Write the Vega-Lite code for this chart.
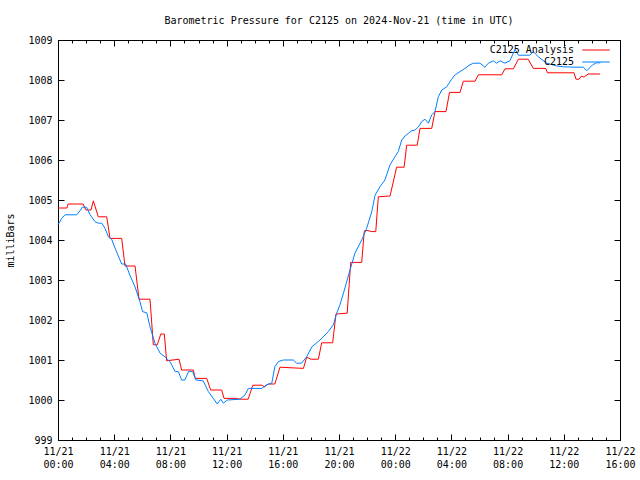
{
  "$schema": "https://vega.github.io/schema/vega-lite/v6.json",
  "width": 562,
  "height": 400,
  "autosize": {"type": "none"},
  "padding": {"left": 58, "top": 40, "right": 20, "bottom": 40},
  "background": "white",
  "title": {"text": "Barometric Pressure for C2125 on 2024-Nov-21 (time in UTC)", "offset": 1, "frame": "group", "anchor": "middle", "baseline": "alphabetic"},
  "config": {
    "font": "DejaVu Sans Mono",
    "view": {"stroke": "black", "strokeWidth": 1},
    "title": {"font": "DejaVu Sans Mono", "fontSize": 10, "fontWeight": "normal", "color": "black"},
    "axis": {"labelFont": "DejaVu Sans Mono", "labelFontSize": 10, "labelColor": "black", "tickColor": "black", "tickWidth": 1, "domain": false, "grid": false, "titleFont": "DejaVu Sans Mono", "titleFontSize": 10, "titleFontWeight": "normal", "titleColor": "black"}
  },
  "datasets": {
    "analysis": [
      {"t": "2024-11-21T00:00:00Z", "v": 1004.8},
      {"t": "2024-11-21T00:38:00Z", "v": 1004.8},
      {"t": "2024-11-21T00:43:00Z", "v": 1004.9},
      {"t": "2024-11-21T01:47:00Z", "v": 1004.9},
      {"t": "2024-11-21T01:59:00Z", "v": 1004.75},
      {"t": "2024-11-21T02:21:00Z", "v": 1004.75},
      {"t": "2024-11-21T02:31:00Z", "v": 1004.98},
      {"t": "2024-11-21T02:52:00Z", "v": 1004.58},
      {"t": "2024-11-21T03:28:00Z", "v": 1004.58},
      {"t": "2024-11-21T03:42:00Z", "v": 1004.04},
      {"t": "2024-11-21T04:32:00Z", "v": 1004.04},
      {"t": "2024-11-21T04:46:00Z", "v": 1003.35},
      {"t": "2024-11-21T05:29:00Z", "v": 1003.35},
      {"t": "2024-11-21T05:46:00Z", "v": 1002.52},
      {"t": "2024-11-21T06:33:00Z", "v": 1002.52},
      {"t": "2024-11-21T06:47:00Z", "v": 1001.38},
      {"t": "2024-11-21T07:04:00Z", "v": 1001.38},
      {"t": "2024-11-21T07:19:00Z", "v": 1001.65},
      {"t": "2024-11-21T07:34:00Z", "v": 1001.65},
      {"t": "2024-11-21T07:44:00Z", "v": 1000.98},
      {"t": "2024-11-21T08:37:00Z", "v": 1001.02},
      {"t": "2024-11-21T08:48:00Z", "v": 1000.75},
      {"t": "2024-11-21T09:38:00Z", "v": 1000.75},
      {"t": "2024-11-21T09:46:00Z", "v": 1000.54},
      {"t": "2024-11-21T10:35:00Z", "v": 1000.54},
      {"t": "2024-11-21T10:52:00Z", "v": 1000.25},
      {"t": "2024-11-21T11:39:00Z", "v": 1000.25},
      {"t": "2024-11-21T11:49:00Z", "v": 1000.04},
      {"t": "2024-11-21T12:43:00Z", "v": 1000.04},
      {"t": "2024-11-21T12:57:00Z", "v": 1000.02},
      {"t": "2024-11-21T13:32:00Z", "v": 1000.02},
      {"t": "2024-11-21T13:52:00Z", "v": 1000.37},
      {"t": "2024-11-21T14:30:00Z", "v": 1000.37},
      {"t": "2024-11-21T14:42:00Z", "v": 1000.33},
      {"t": "2024-11-21T14:58:00Z", "v": 1000.4},
      {"t": "2024-11-21T15:26:00Z", "v": 1000.4},
      {"t": "2024-11-21T15:48:00Z", "v": 1000.82},
      {"t": "2024-11-21T17:28:00Z", "v": 1000.79},
      {"t": "2024-11-21T17:42:00Z", "v": 1001.07},
      {"t": "2024-11-21T18:00:00Z", "v": 1001.02},
      {"t": "2024-11-21T18:32:00Z", "v": 1001.02},
      {"t": "2024-11-21T18:46:00Z", "v": 1001.43},
      {"t": "2024-11-21T19:33:00Z", "v": 1001.43},
      {"t": "2024-11-21T19:47:00Z", "v": 1002.15},
      {"t": "2024-11-21T20:35:00Z", "v": 1002.17},
      {"t": "2024-11-21T20:50:00Z", "v": 1003.44},
      {"t": "2024-11-21T21:37:00Z", "v": 1003.44},
      {"t": "2024-11-21T21:48:00Z", "v": 1004.23},
      {"t": "2024-11-21T22:00:00Z", "v": 1004.24},
      {"t": "2024-11-21T22:20:00Z", "v": 1004.21},
      {"t": "2024-11-21T22:37:00Z", "v": 1004.21},
      {"t": "2024-11-21T22:48:00Z", "v": 1005.08},
      {"t": "2024-11-21T23:38:00Z", "v": 1005.1},
      {"t": "2024-11-22T00:06:00Z", "v": 1005.82},
      {"t": "2024-11-22T00:38:00Z", "v": 1005.82},
      {"t": "2024-11-22T00:49:00Z", "v": 1006.37},
      {"t": "2024-11-22T01:34:00Z", "v": 1006.37},
      {"t": "2024-11-22T01:46:00Z", "v": 1006.79},
      {"t": "2024-11-22T02:36:00Z", "v": 1006.79},
      {"t": "2024-11-22T02:50:00Z", "v": 1007.21},
      {"t": "2024-11-22T03:37:00Z", "v": 1007.21},
      {"t": "2024-11-22T03:52:00Z", "v": 1007.69},
      {"t": "2024-11-22T04:37:00Z", "v": 1007.69},
      {"t": "2024-11-22T04:51:00Z", "v": 1007.97},
      {"t": "2024-11-22T05:41:00Z", "v": 1007.97},
      {"t": "2024-11-22T05:55:00Z", "v": 1008.13},
      {"t": "2024-11-22T07:35:00Z", "v": 1008.13},
      {"t": "2024-11-22T07:49:00Z", "v": 1008.28},
      {"t": "2024-11-22T08:25:00Z", "v": 1008.28},
      {"t": "2024-11-22T08:46:00Z", "v": 1008.52},
      {"t": "2024-11-22T09:28:00Z", "v": 1008.52},
      {"t": "2024-11-22T09:50:00Z", "v": 1008.29},
      {"t": "2024-11-22T10:43:00Z", "v": 1008.29},
      {"t": "2024-11-22T10:50:00Z", "v": 1008.18},
      {"t": "2024-11-22T12:44:00Z", "v": 1008.18},
      {"t": "2024-11-22T12:52:00Z", "v": 1008.02},
      {"t": "2024-11-22T13:05:00Z", "v": 1008.02},
      {"t": "2024-11-22T13:16:00Z", "v": 1008.1},
      {"t": "2024-11-22T13:26:00Z", "v": 1008.07},
      {"t": "2024-11-22T13:44:00Z", "v": 1008.15},
      {"t": "2024-11-22T14:35:00Z", "v": 1008.15}
    ],
    "obs": [
      {"t": "2024-11-21T00:00:00Z", "v": 1004.38},
      {"t": "2024-11-21T00:16:00Z", "v": 1004.54},
      {"t": "2024-11-21T00:30:00Z", "v": 1004.63},
      {"t": "2024-11-21T01:20:00Z", "v": 1004.63},
      {"t": "2024-11-21T01:34:00Z", "v": 1004.73},
      {"t": "2024-11-21T01:44:00Z", "v": 1004.82},
      {"t": "2024-11-21T02:02:00Z", "v": 1004.82},
      {"t": "2024-11-21T02:17:00Z", "v": 1004.63},
      {"t": "2024-11-21T02:38:00Z", "v": 1004.46},
      {"t": "2024-11-21T02:52:00Z", "v": 1004.42},
      {"t": "2024-11-21T03:07:00Z", "v": 1004.42},
      {"t": "2024-11-21T03:21:00Z", "v": 1004.29},
      {"t": "2024-11-21T03:35:00Z", "v": 1004.08},
      {"t": "2024-11-21T03:49:00Z", "v": 1004.02},
      {"t": "2024-11-21T04:04:00Z", "v": 1003.79},
      {"t": "2024-11-21T04:25:00Z", "v": 1003.5},
      {"t": "2024-11-21T04:32:00Z", "v": 1003.4},
      {"t": "2024-11-21T04:49:00Z", "v": 1003.4},
      {"t": "2024-11-21T05:07:00Z", "v": 1003.12},
      {"t": "2024-11-21T05:29:00Z", "v": 1002.83},
      {"t": "2024-11-21T05:43:00Z", "v": 1002.58},
      {"t": "2024-11-21T05:50:00Z", "v": 1002.46},
      {"t": "2024-11-21T06:01:00Z", "v": 1002.21},
      {"t": "2024-11-21T06:19:00Z", "v": 1002.18},
      {"t": "2024-11-21T06:33:00Z", "v": 1001.83},
      {"t": "2024-11-21T06:54:00Z", "v": 1001.42},
      {"t": "2024-11-21T07:16:00Z", "v": 1001.17},
      {"t": "2024-11-21T07:37:00Z", "v": 1001.08},
      {"t": "2024-11-21T07:58:00Z", "v": 1000.96},
      {"t": "2024-11-21T08:20:00Z", "v": 1000.71},
      {"t": "2024-11-21T08:34:00Z", "v": 1000.71},
      {"t": "2024-11-21T08:48:00Z", "v": 1000.5},
      {"t": "2024-11-21T09:02:00Z", "v": 1000.5},
      {"t": "2024-11-21T09:17:00Z", "v": 1000.71},
      {"t": "2024-11-21T09:35:00Z", "v": 1000.71},
      {"t": "2024-11-21T09:49:00Z", "v": 1000.5},
      {"t": "2024-11-21T10:20:00Z", "v": 1000.48},
      {"t": "2024-11-21T10:42:00Z", "v": 1000.21},
      {"t": "2024-11-21T11:03:00Z", "v": 1000.04},
      {"t": "2024-11-21T11:20:00Z", "v": 999.9},
      {"t": "2024-11-21T11:35:00Z", "v": 1000.02},
      {"t": "2024-11-21T11:46:00Z", "v": 999.92},
      {"t": "2024-11-21T12:03:00Z", "v": 1000.0},
      {"t": "2024-11-21T12:57:00Z", "v": 1000.02},
      {"t": "2024-11-21T13:19:00Z", "v": 1000.13},
      {"t": "2024-11-21T13:33:00Z", "v": 1000.29},
      {"t": "2024-11-21T14:30:00Z", "v": 1000.29},
      {"t": "2024-11-21T14:51:00Z", "v": 1000.38},
      {"t": "2024-11-21T15:13:00Z", "v": 1000.42},
      {"t": "2024-11-21T15:26:00Z", "v": 1000.83},
      {"t": "2024-11-21T15:41:00Z", "v": 1000.96},
      {"t": "2024-11-21T16:02:00Z", "v": 1001.0},
      {"t": "2024-11-21T16:45:00Z", "v": 1001.0},
      {"t": "2024-11-21T16:59:00Z", "v": 1000.92},
      {"t": "2024-11-21T17:20:00Z", "v": 1000.92},
      {"t": "2024-11-21T17:42:00Z", "v": 1001.08},
      {"t": "2024-11-21T18:04:00Z", "v": 1001.33},
      {"t": "2024-11-21T18:39:00Z", "v": 1001.5},
      {"t": "2024-11-21T19:14:00Z", "v": 1001.71},
      {"t": "2024-11-21T19:36:00Z", "v": 1001.88},
      {"t": "2024-11-21T19:50:00Z", "v": 1002.17},
      {"t": "2024-11-21T20:04:00Z", "v": 1002.38},
      {"t": "2024-11-21T20:19:00Z", "v": 1002.67},
      {"t": "2024-11-21T20:47:00Z", "v": 1003.25},
      {"t": "2024-11-21T21:08:00Z", "v": 1003.67},
      {"t": "2024-11-21T21:37:00Z", "v": 1004.0},
      {"t": "2024-11-21T21:58:00Z", "v": 1004.29},
      {"t": "2024-11-21T22:20:00Z", "v": 1004.71},
      {"t": "2024-11-21T22:34:00Z", "v": 1005.12},
      {"t": "2024-11-21T22:55:00Z", "v": 1005.33},
      {"t": "2024-11-21T23:16:00Z", "v": 1005.5},
      {"t": "2024-11-21T23:38:00Z", "v": 1005.88},
      {"t": "2024-11-21T23:59:00Z", "v": 1006.08},
      {"t": "2024-11-22T00:13:00Z", "v": 1006.21},
      {"t": "2024-11-22T00:28:00Z", "v": 1006.5},
      {"t": "2024-11-22T00:42:00Z", "v": 1006.6},
      {"t": "2024-11-22T01:10:00Z", "v": 1006.73},
      {"t": "2024-11-22T01:25:00Z", "v": 1006.75},
      {"t": "2024-11-22T01:39:00Z", "v": 1006.83},
      {"t": "2024-11-22T01:53:00Z", "v": 1006.96},
      {"t": "2024-11-22T02:07:00Z", "v": 1007.02},
      {"t": "2024-11-22T02:22:00Z", "v": 1006.92},
      {"t": "2024-11-22T02:36:00Z", "v": 1007.13},
      {"t": "2024-11-22T02:50:00Z", "v": 1007.21},
      {"t": "2024-11-22T03:04:00Z", "v": 1007.58},
      {"t": "2024-11-22T03:19:00Z", "v": 1007.75},
      {"t": "2024-11-22T03:40:00Z", "v": 1007.83},
      {"t": "2024-11-22T04:01:00Z", "v": 1008.02},
      {"t": "2024-11-22T04:16:00Z", "v": 1008.13},
      {"t": "2024-11-22T04:37:00Z", "v": 1008.21},
      {"t": "2024-11-22T04:58:00Z", "v": 1008.29},
      {"t": "2024-11-22T05:19:00Z", "v": 1008.38},
      {"t": "2024-11-22T05:34:00Z", "v": 1008.42},
      {"t": "2024-11-22T06:02:00Z", "v": 1008.42},
      {"t": "2024-11-22T06:23:00Z", "v": 1008.32},
      {"t": "2024-11-22T06:38:00Z", "v": 1008.42},
      {"t": "2024-11-22T06:59:00Z", "v": 1008.48},
      {"t": "2024-11-22T07:13:00Z", "v": 1008.42},
      {"t": "2024-11-22T07:28:00Z", "v": 1008.48},
      {"t": "2024-11-22T07:49:00Z", "v": 1008.42},
      {"t": "2024-11-22T08:10:00Z", "v": 1008.48},
      {"t": "2024-11-22T08:32:00Z", "v": 1008.77},
      {"t": "2024-11-22T08:46:00Z", "v": 1008.62},
      {"t": "2024-11-22T09:35:00Z", "v": 1008.62},
      {"t": "2024-11-22T09:50:00Z", "v": 1008.71},
      {"t": "2024-11-22T10:11:00Z", "v": 1008.58},
      {"t": "2024-11-22T10:47:00Z", "v": 1008.42},
      {"t": "2024-11-22T11:30:00Z", "v": 1008.35},
      {"t": "2024-11-22T11:58:00Z", "v": 1008.33},
      {"t": "2024-11-22T12:48:00Z", "v": 1008.32},
      {"t": "2024-11-22T13:23:00Z", "v": 1008.32},
      {"t": "2024-11-22T13:38:00Z", "v": 1008.23},
      {"t": "2024-11-22T14:03:00Z", "v": 1008.38},
      {"t": "2024-11-22T14:20:00Z", "v": 1008.43},
      {"t": "2024-11-22T14:36:00Z", "v": 1008.43}
    ]
  },
  "layer": [
    {
      "data": {"name": "analysis"},
      "mark": {"type": "line", "strokeWidth": 1},
      "encoding": {
        "x": {"field": "t", "type": "temporal", "scale": {"type": "utc", "domain": [1732147200000, 1732291200000], "nice": false},
              "axis": {"orient": "bottom", "title": null, "values": [1732147200000, 1732161600000, 1732176000000, 1732190400000, 1732204800000, 1732219200000, 1732233600000, 1732248000000, 1732262400000, 1732276800000, 1732291200000],
                       "labelExpr": "[utcFormat(datum.value, '%m/%d'), utcFormat(datum.value, '%H:%M')]", "labelLineHeight": 13, "tickSize": -6, "labelPadding": 12, "labelFlush": false, "labelOverlap": false}},
        "y": {"field": "v", "type": "quantitative", "scale": {"domain": [999, 1009], "nice": false, "zero": false},
              "axis": {"orient": "left", "values": [999, 1000, 1001, 1002, 1003, 1004, 1005, 1006, 1007, 1008, 1009], "format": "d", "tickSize": -6, "labelPadding": 12, "title": "milliBars", "titlePadding": 12}},
        "color": {"datum": "C2125 Analysis", "type": "nominal",
                  "scale": {"domain": ["C2125 Analysis", "C2125"], "range": ["#ff0000", "#0080ff"]},
                  "legend": {"orient": "none", "legendX": 532, "legendY": 4, "title": null, "padding": 0, "symbolType": "M-2.5,0H2.5", "symbolSize": 121, "symbolStrokeWidth": 1, "labelAlign": "right", "labelOffset": -28, "labelFont": "DejaVu Sans Mono", "labelFontSize": 10, "labelColor": "black", "rowPadding": 1}}
      }
    },
    {
      "data": {"name": "obs"},
      "mark": {"type": "line", "strokeWidth": 1},
      "encoding": {
        "x": {"field": "t", "type": "temporal",
              "axis": {"orient": "top", "title": null, "labels": false, "values": [1732147200000, 1732161600000, 1732176000000, 1732190400000, 1732204800000, 1732219200000, 1732233600000, 1732248000000, 1732262400000, 1732276800000, 1732291200000], "tickSize": -6}},
        "y": {"field": "v", "type": "quantitative",
              "axis": {"orient": "right", "title": null, "labels": false, "values": [999, 1000, 1001, 1002, 1003, 1004, 1005, 1006, 1007, 1008, 1009], "tickSize": -6}},
        "color": {"datum": "C2125", "type": "nominal"}
      }
    },
    {
      "data": {"name": "analysis"},
      "mark": {"type": "line", "strokeWidth": 1, "opacity": 0},
      "encoding": {
        "x": {"field": "t", "type": "temporal",
              "axis": {"orient": "bottom", "title": null, "labels": false, "tickSize": -3, "values": [1732147200000, 1732150800000, 1732154400000, 1732158000000, 1732161600000, 1732165200000, 1732168800000, 1732172400000, 1732176000000, 1732179600000, 1732183200000, 1732186800000, 1732190400000, 1732194000000, 1732197600000, 1732201200000, 1732204800000, 1732208400000, 1732212000000, 1732215600000, 1732219200000, 1732222800000, 1732226400000, 1732230000000, 1732233600000, 1732237200000, 1732240800000, 1732244400000, 1732248000000, 1732251600000, 1732255200000, 1732258800000, 1732262400000, 1732266000000, 1732269600000, 1732273200000, 1732276800000, 1732280400000, 1732284000000, 1732287600000, 1732291200000]}},
        "y": {"field": "v", "type": "quantitative", "axis": null}
      }
    },
    {
      "data": {"name": "analysis"},
      "mark": {"type": "line", "strokeWidth": 1, "opacity": 0},
      "encoding": {
        "x": {"field": "t", "type": "temporal",
              "axis": {"orient": "top", "title": null, "labels": false, "tickSize": -3, "values": [1732147200000, 1732150800000, 1732154400000, 1732158000000, 1732161600000, 1732165200000, 1732168800000, 1732172400000, 1732176000000, 1732179600000, 1732183200000, 1732186800000, 1732190400000, 1732194000000, 1732197600000, 1732201200000, 1732204800000, 1732208400000, 1732212000000, 1732215600000, 1732219200000, 1732222800000, 1732226400000, 1732230000000, 1732233600000, 1732237200000, 1732240800000, 1732244400000, 1732248000000, 1732251600000, 1732255200000, 1732258800000, 1732262400000, 1732266000000, 1732269600000, 1732273200000, 1732276800000, 1732280400000, 1732284000000, 1732287600000, 1732291200000]}},
        "y": {"field": "v", "type": "quantitative", "axis": null}
      }
    }
  ],
  "resolve": {"axis": {"x": "independent", "y": "independent"}}
}
